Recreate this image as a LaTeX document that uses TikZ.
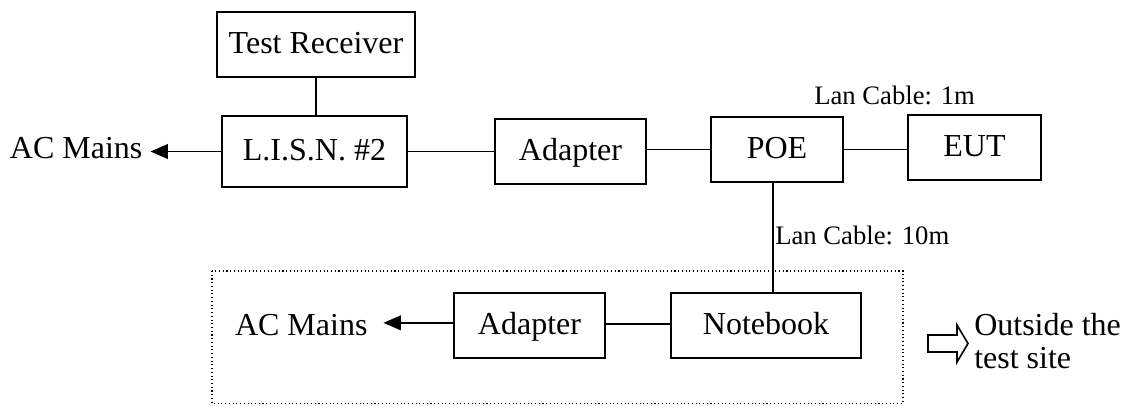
\documentclass[tikz,border=0pt]{standalone}
\usepackage{fontspec}
\setmainfont{Liberation Serif}
\usetikzlibrary{arrows.meta}
\begin{document}
\begin{tikzpicture}[x=0.75pt,y=-0.75pt,
  box/.style={draw,line width=1.5pt,inner sep=0pt,text height=17pt,text depth=4.2pt,font=\fontsize{24}{28}\selectfont},
  lbl/.style={inner sep=0pt,font=\fontsize{24}{28}\selectfont},
  small/.style={inner sep=0pt,font=\fontsize{20}{24}\selectfont},
  wire/.style={line width=1.1pt},
  arr/.style={line width=1.1pt,-{Triangle[length=13pt,width=11pt]}}]
\useasboundingbox (0,0) rectangle (1129,405);
% dotted region
\draw[dotted,line width=0.8pt] (212,271) rectangle (903,403.5);
% boxes
\node[box,minimum width=148.5pt,minimum height=48.75pt] (TR) at (316,44.5) {Test Receiver};
\node[box,minimum width=138.75pt,minimum height=53.25pt] (LISN) at (314.5,151.5) {L.I.S.N. \#2};
\node[box,minimum width=113.25pt,minimum height=48.75pt] (AD1) at (570.5,151.5) {Adapter};
\node[box,minimum width=99pt,minimum height=48.75pt] (POE) at (777,149.5) {POE};
\node[box,minimum width=99.75pt,minimum height=48.75pt] (EUT) at (974.5,147.5) {EUT};
\node[box,minimum width=113.25pt,minimum height=48.75pt] (AD2) at (529.5,325.5) {Adapter};
\node[box,minimum width=142.5pt,minimum height=48.75pt] (NB) at (766,325.5) {Notebook};
% text labels
\node[lbl,anchor=base west,outer xsep=6pt] (AC1) at (2,158) {AC Mains};
\node[lbl,anchor=base west,outer xsep=12pt] (AC2) at (219,335) {AC Mains};
\node[small,anchor=base west] (L1) at (814,104) {Lan Cable: 1m};
\node[small,anchor=base west] (L10) at (775,244) {Lan Cable: 10m};
\node[lbl,anchor=base west,align=left,font=\fontsize{24}{24.75}\selectfont] (OUT) at (974,368) {Outside the\\test site};
% connectors
\draw[wire] (TR.south) -- (TR.south |- LISN.north);
\draw[wire] (LISN.east) -- (LISN.east -| AD1.west);
\draw[wire] (POE.west -| AD1.east) -- (POE.west);
\draw[wire] (POE.east) -- (POE.east -| EUT.west);
\draw[wire] ([xshift=-3pt]POE.south) -- ([xshift=-3pt]POE.south |- NB.north);
\draw[wire] ([yshift=1pt]AD2.east) -- ([yshift=1pt]AD2.east -| NB.west);
\draw[arr] (LISN.west) -- (LISN.west -| AC1.east);
\draw[arr] ([yshift=2pt]AD2.west) -- ([yshift=2pt]AD2.west -| AC2.east);
% hollow arrow
\draw[line width=1.2pt,line join=miter] (928,335) -- (957,335) -- (957,325) -- (968,343.5) -- (957,362) -- (957,352) -- (928,352) -- cycle;
\end{tikzpicture}
\end{document}
